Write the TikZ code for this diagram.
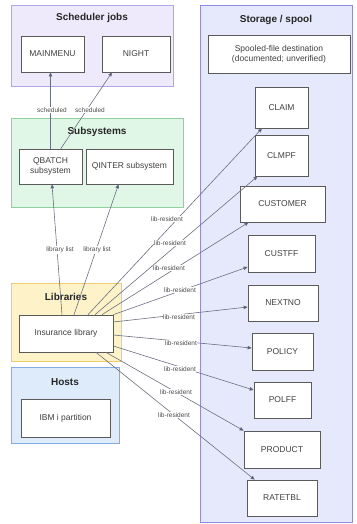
\documentclass[tikz,border=0pt]{standalone}
\usepackage{fontspec}
\setmainfont{Liberation Sans}
\usetikzlibrary{arrows.meta,calc}

\definecolor{schedFill}{HTML}{EFEAFB}
\definecolor{schedLine}{HTML}{B3A6E6}
\definecolor{storFill}{HTML}{E6E9FB}
\definecolor{storLine}{HTML}{8E8CE0}
\definecolor{subFill}{HTML}{E0F6E6}
\definecolor{subLine}{HTML}{8FD19E}
\definecolor{libFill}{HTML}{FDF2C8}
\definecolor{libLine}{HTML}{EDCD6D}
\definecolor{hostFill}{HTML}{DDEBFA}
\definecolor{hostLine}{HTML}{85ACE0}
\definecolor{boxLine}{HTML}{5A5A5A}
\definecolor{edgeCol}{HTML}{6B7080}
\definecolor{tipCol}{HTML}{4A5070}

\tikzset{
  cluster/.style={draw, line width=0.8pt, inner sep=0pt},
  ctitle/.style={font=\fontsize{10}{12}\selectfont\bfseries, text=black!85, inner sep=0pt},
  box/.style={draw=boxLine, fill=white, line width=0.7pt, inner sep=1pt, align=center,
              font=\fontsize{8.5}{10}\selectfont, text=black!75},
  link/.style={draw=edgeCol, line width=0.6pt,
               -{Triangle[length=4pt,width=3.6pt,fill=tipCol]}},
  lbl/.style={font=\fontsize{6.5}{7.5}\selectfont, text=black!70, inner sep=0.6pt, fill=white}
}

\begin{document}
\begin{tikzpicture}[x=1pt,y=-1pt]
\useasboundingbox (0,0) rectangle (356,524);

% ---- clusters ----
\node[cluster, fill=schedFill, draw=schedLine, minimum width=162pt, minimum height=81pt] (schedC) at (92,45.5) {};
\node[ctitle] (schedT) at (92,18) {Scheduler jobs};

\node[cluster, fill=storFill, draw=storLine, minimum width=152pt, minimum height=517pt] (storC) at (276,263.5) {};
\node[ctitle] (storT) at (276,20) {Storage / spool};

\node[cluster, fill=subFill, draw=subLine, minimum width=172pt, minimum height=89pt] (subC) at (97,162.5) {};
\node[ctitle] (subT) at (97,132) {Subsystems};

\node[cluster, fill=libFill, draw=libLine, minimum width=110pt, minimum height=78pt] (libC) at (66,322) {};
\node[ctitle] (libT) at (66,297) {Libraries};

\node[cluster, fill=hostFill, draw=hostLine, minimum width=108pt, minimum height=76pt] (hostC) at (65,405) {};
\node[ctitle] (hostT) at (65,382) {Hosts};

% ---- jobs ----
\node[box, minimum width=63pt, minimum height=36pt] (mainmenu) at (52.5,54) {MAINMENU};
\node[box, minimum width=68pt, minimum height=36pt] (night) at (136,54) {NIGHT};

% ---- subsystems ----
\node[box, minimum width=63pt, minimum height=35pt] (qbatch) at (50.5,166.5) {QBATCH\\subsystem};
\node[box, minimum width=87pt, minimum height=35pt] (qinter) at (129.5,166.5) {QINTER subsystem};

% ---- library and host ----
\node[box, minimum width=94pt, minimum height=37pt] (lib) at (66,333.5) {Insurance library};
\node[box, minimum width=89pt, minimum height=38pt] (ibmi) at (65.5,418) {IBM i partition};

% ---- storage objects ----
\node[box, minimum width=142pt, minimum height=38pt] (spool) at (279,54) {Spooled-file destination\\(documented; unverified)};
\node[box, minimum width=53pt, minimum height=41pt] (claim) at (281.5,107.5) {CLAIM};
\node[box, minimum width=53pt, minimum height=41pt] (clmpf) at (281.5,155.5) {CLMPF};
\node[box, minimum width=85pt, minimum height=36pt] (customer) at (282.5,204) {CUSTOMER};
\node[box, minimum width=67pt, minimum height=37pt] (custff) at (281.5,253.5) {CUSTFF};
\node[box, minimum width=70pt, minimum height=36pt] (nextno) at (283,303) {NEXTNO};
\node[box, minimum width=61pt, minimum height=37pt] (policy) at (282.5,351.5) {POLICY};
\node[box, minimum width=57pt, minimum height=36pt] (polff) at (282.5,400) {POLFF};
\node[box, minimum width=76pt, minimum height=37pt] (product) at (282,449.5) {PRODUCT};
\node[box, minimum width=70pt, minimum height=36pt] (ratetbl) at (282,498) {RATETBL};

% ---- scheduling ----
\draw[link] (qbatch.north) -- (qbatch.north |- mainmenu.south);
\draw[link] (qbatch.60) -- ($(night.south)+(-24,0)$);
\node[lbl] (s1) at (52,110) {scheduled};
\node[lbl] (s2) at (90,110) {scheduled};

% ---- library lists ----
\draw[link] ($(lib.north)+(-4,0)$) -- ($(qbatch.south)+(1.5,0)$);
\draw[link] ($(lib.north)+(8,0)$) -- ($(qinter.south)+(-11,0)$);
\node[lbl] (ll1) at (60,250) {library list};
\node[lbl] (ll2) at (97,250) {library list};

% ---- lib-resident objects ----
\draw[link] ($(lib.north)+(22,0)$) -- ($(claim.south)+(-19.5,0)$);
\draw[link] ($(lib.north)+(29,0)$) -- ($(clmpf.south)+(-24,0)$);
\draw[link] ($(lib.north)+(36,0)$) -- ($(customer.south)+(-34,0)$);
\draw[link] (lib.north east) -- ($(custff.west)+(0,13.5)$);
\draw[link] ($(lib.east)+(0,-11.5)$) -- ($(nextno.west)+(0,4)$);
\draw[link] ($(lib.east)+(0,1.5)$) -- ($(policy.west)+(0,-3.5)$);
\draw[link] ($(lib.east)+(0,12.5)$) -- ($(polff.west)+(0,-10)$);
\draw[link] ($(lib.south)+(40,0)$) -- (product.north west);
\draw[link] ($(lib.south)+(30,0)$) -- ($(ratetbl.north west)+(8,0)$);

\node[lbl] (r1) at (167,219) {lib-resident};
\node[lbl] (r2) at (170,243) {lib-resident};
\node[lbl] (r3) at (169,268) {lib-resident};
\node[lbl] (r4) at (180,290) {lib-resident};
\node[lbl] (r5) at (179,317) {lib-resident};
\node[lbl] (r6) at (181,343) {lib-resident};
\node[lbl] (r7) at (180,369) {lib-resident};
\node[lbl] (r8) at (176,392) {lib-resident};
\node[lbl] (r9) at (174,415) {lib-resident};
\end{tikzpicture}
\end{document}
